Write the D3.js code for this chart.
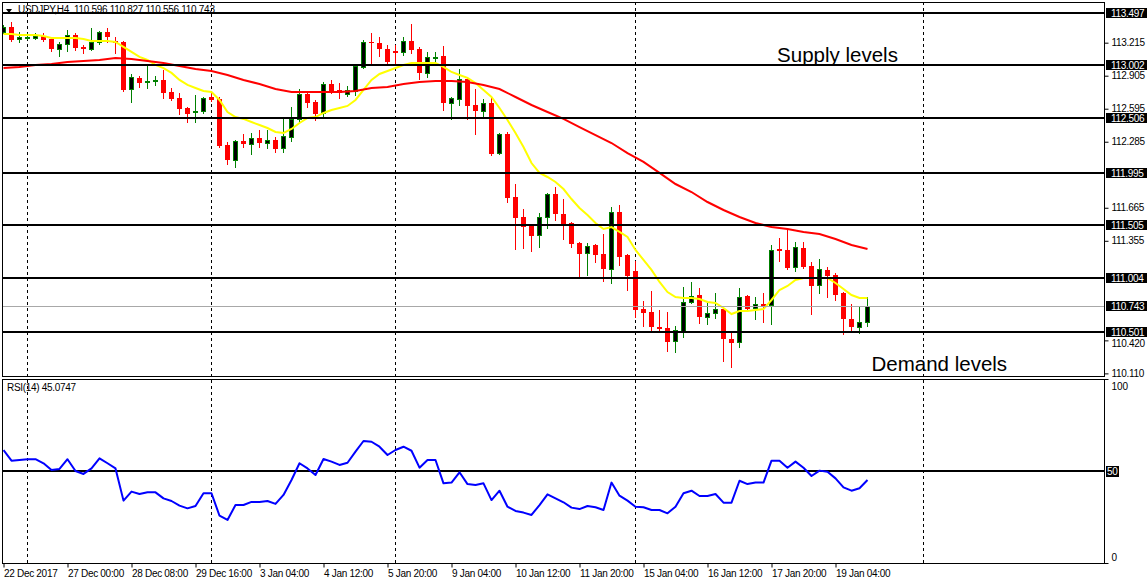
<!DOCTYPE html>
<html><head><meta charset="utf-8">
<script src="https://cdn.jsdelivr.net/npm/d3@7"></script>
<style>body{margin:0;background:#fff;} svg{display:block;font-family:"Liberation Sans",Arial,sans-serif;}</style>
</head><body><svg id="c" width="1147" height="585"></svg>
<script>
// ---------------- DATA ----------------
const symbolTitle = "USDJPY,H4  110.596 110.827 110.556 110.743";
const rsiTitle = "RSI(14) 45.0747";
const open = [
113.316,113.362,113.245,113.262,113.259,113.278,113.250,113.156,113.203,113.287,
113.175,113.156,113.222,113.316,113.231,113.222,112.780,112.884,112.846,112.855,
112.865,112.752,112.696,112.602,112.564,112.574,112.705,112.686,112.254,112.114,
112.292,112.264,112.320,112.273,112.301,112.226,112.330,112.499,112.733,112.658,
112.555,112.827,112.771,112.733,112.762,112.987,113.222,113.212,113.156,113.137,
113.128,113.231,113.156,112.931,113.071,113.090,112.649,112.686,112.874,112.630,
112.574,112.649,112.179,112.358,111.766,111.578,111.494,111.409,111.578,111.794,
111.607,111.522,111.334,111.240,111.315,111.231,111.090,111.625,111.222,111.071,
110.714,110.686,110.545,110.536,110.414,110.498,110.780,110.846,110.639,110.677,
110.714,110.433,110.405,110.837,110.724,110.761,110.752,111.278,111.269,111.109,
111.287,111.118,110.940,111.081,111.034,110.865,110.620,110.545,110.596];
const high = [
113.381,113.409,113.316,113.306,113.306,113.306,113.269,113.222,113.334,113.306,
113.193,113.353,113.325,113.353,113.269,113.231,112.921,112.902,112.996,112.902,
112.959,112.790,112.743,112.611,112.724,112.705,112.743,112.705,112.283,112.301,
112.358,112.367,112.395,112.395,112.330,112.499,112.611,112.780,112.761,112.677,
112.846,112.865,112.837,112.808,113.006,113.240,113.306,113.269,113.193,113.193,
113.269,113.391,113.175,113.128,113.128,113.184,112.705,112.968,112.893,112.780,
112.686,112.696,112.367,112.377,111.888,111.653,111.513,111.616,111.804,111.860,
111.747,111.531,111.340,111.334,111.325,111.419,111.672,111.691,111.231,111.165,
110.790,110.884,110.705,110.686,110.555,110.921,110.968,110.912,110.771,110.865,
110.733,110.489,110.912,110.846,110.827,110.865,111.315,111.381,111.456,111.344,
111.344,111.156,111.184,111.109,111.053,110.870,110.761,110.733,110.827];
const low = [
113.306,113.231,113.222,113.250,113.250,113.231,113.137,113.090,113.137,113.147,
113.118,113.147,113.203,113.222,113.118,112.762,112.658,112.799,112.790,112.818,
112.696,112.677,112.546,112.470,112.470,112.555,112.668,112.236,112.076,112.048,
112.236,112.170,112.236,112.226,112.189,112.189,112.292,112.461,112.611,112.489,
112.517,112.743,112.696,112.715,112.724,112.977,113.006,113.090,113.006,113.006,
113.100,113.118,112.874,112.893,113.024,112.583,112.499,112.630,112.499,112.358,
112.517,112.161,112.170,111.719,111.278,111.287,111.259,111.297,111.475,111.550,
111.372,111.297,111.024,111.034,111.156,110.977,110.959,111.128,110.893,110.639,
110.555,110.498,110.508,110.320,110.311,110.452,110.771,110.583,110.574,110.630,
110.226,110.170,110.358,110.705,110.620,110.592,110.574,111.165,111.090,111.071,
111.100,110.668,110.865,110.827,110.799,110.480,110.498,110.489,110.556];
const close = [
113.362,113.240,113.269,113.271,113.278,113.240,113.156,113.203,113.287,113.165,
113.156,113.222,113.316,113.269,113.212,112.771,112.893,112.837,112.855,112.865,
112.743,112.686,112.592,112.546,112.574,112.696,112.677,112.245,112.114,112.292,
112.264,112.320,112.273,112.301,112.217,112.339,112.499,112.733,112.649,112.546,
112.827,112.762,112.743,112.771,112.996,113.222,113.212,113.156,113.034,113.118,
113.231,113.147,112.931,113.081,113.081,112.649,112.696,112.874,112.621,112.574,
112.649,112.170,112.358,111.757,111.569,111.484,111.400,111.578,111.794,111.607,
111.513,111.325,111.231,111.306,111.222,111.090,111.625,111.203,111.024,110.705,
110.677,110.545,110.527,110.405,110.517,110.780,110.837,110.639,110.677,110.714,
110.433,110.395,110.827,110.714,110.761,110.743,111.269,111.259,111.100,111.297,
111.109,110.930,111.090,111.024,110.846,110.620,110.545,110.592,110.743];
// fast moving average (yellow), one value per bar
const maFast = [
113.297,113.297,113.287,113.287,113.287,113.278,113.259,113.259,113.259,113.259,
113.250,113.231,113.231,113.231,113.222,113.175,113.128,113.081,113.053,113.006,
112.977,112.931,112.865,112.818,112.790,112.761,112.752,112.677,112.564,112.517,
112.499,112.470,112.442,112.414,112.377,112.367,112.405,112.461,112.508,112.517,
112.555,112.583,112.602,112.621,112.677,112.771,112.865,112.921,112.949,112.977,
113.006,113.024,113.024,113.024,113.024,112.987,112.940,112.912,112.884,112.837,
112.771,112.705,112.602,112.489,112.367,112.236,112.085,111.992,111.954,111.907,
111.841,111.747,111.663,111.597,111.522,111.466,111.484,111.438,111.391,111.269,
111.175,111.081,110.968,110.874,110.827,110.818,110.818,110.808,110.780,110.771,
110.724,110.667,110.696,110.696,110.705,110.714,110.799,110.893,110.931,110.987,
111.006,111.006,111.006,111.006,110.959,110.902,110.846,110.818,110.818];
// slow moving average (red), read at every second bar (bars 0,2,4,...,108)
const maSlow = [
112.977,112.987,113.006,113.015,113.034,113.043,113.053,113.071,113.062,113.043,
113.024,112.996,112.968,112.949,112.912,112.865,112.827,112.780,112.752,112.752,
112.752,112.752,112.761,112.790,112.799,112.827,112.846,112.855,112.855,112.846,
112.818,112.780,112.705,112.630,112.564,112.499,112.423,112.348,112.273,112.179,
112.095,111.992,111.888,111.813,111.719,111.644,111.578,111.522,111.484,111.466,
111.438,111.419,111.372,111.316,111.278];
const rsi = [
61.4,55.6,56.0,56.4,56.4,54.2,50.5,51.1,56.4,50.0,
48.4,51.4,56.9,54.2,51.4,33.9,38.8,37.5,38.4,38.4,
35.1,33.7,31.2,29.7,31.0,37.9,37.9,25.7,23.4,31.5,
31.5,33.2,33.2,33.7,32.1,37.0,45.1,54.2,51.4,47.8,
56.5,55.1,53.3,54.5,60.5,66.3,65.9,63.2,58.7,61.4,
63.2,61.0,51.8,56.0,56.0,43.3,43.7,49.3,42.9,42.4,
43.3,34.2,39.3,30.6,28.3,27.4,26.1,31.5,37.3,35.1,
33.0,30.1,29.3,31.0,30.3,28.8,43.7,36.6,33.9,30.6,
30.3,28.8,28.8,27.0,30.6,37.9,39.3,36.4,36.4,37.5,
32.8,32.8,44.7,42.9,43.7,43.7,55.6,55.6,51.8,55.1,
51.8,47.3,50.2,49.6,46.0,41.1,39.3,40.6,45.07];
const levels = [113.497,113.002,112.506,111.995,111.505,111.004,110.501];
const currentPrice = 110.743;
const priceTicks = [113.215,112.905,112.595,112.285,111.665,111.355,110.420,110.110];
const xLabels = ["22 Dec 2017","27 Dec 00:00","28 Dec 08:00","29 Dec 16:00","3 Jan 04:00","4 Jan 12:00","5 Jan 20:00","9 Jan 04:00","10 Jan 12:00","11 Jan 20:00","15 Jan 04:00","16 Jan 12:00","17 Jan 20:00","19 Jan 04:00"];
const xLabelBars = [0,8,16,24,32,40,48,56,64,72,80,88,96,104];
const separatorBars = [3,26,49,79,115];
const rsiLevel = 50;
const annotations = [{text:"Supply levels", price:113.037, bar:96.7},{text:"Demand levels", price:110.132, bar:108.5}];

// ---------------- DRAW ----------------
const GREEN = "#008000", RED = "#ff0000";
const svg = d3.select("#c");
const L = 2, R = 1104, mainTop = 2, mainBot = 377, rsiTop = 379, rsiBot = 563;
const x = d3.scaleLinear().domain([0, 1]).range([3.5, 11.5]);
const y = d3.scaleLinear().domain([110.076, 113.597]).range([mainBot, mainTop]);
const yr = d3.scaleLinear().domain([0, 100]).range([rsiBot, rsiTop]);
const cy = v => Math.round(y(v)) + 0.5;

svg.append("rect").attr("width", 1147).attr("height", 585).attr("fill", "#fff");
const defs = svg.append("defs");
defs.append("clipPath").attr("id", "cm").append("rect").attr("x", L + 1).attr("y", mainTop + 1).attr("width", R - L - 1).attr("height", mainBot - mainTop - 1);
defs.append("clipPath").attr("id", "cr").append("rect").attr("x", L + 1).attr("y", rsiTop + 1).attr("width", R - L - 1).attr("height", rsiBot - rsiTop - 1);

// period separators
svg.append("g").selectAll("line").data(separatorBars).join("line")
  .attr("x1", d => x(d)).attr("x2", d => x(d)).attr("y1", mainTop).attr("y2", rsiBot)
  .attr("stroke", "#000").attr("stroke-width", 1).attr("stroke-dasharray", "3,3");

// header
const hdr = svg.append("g");
hdr.append("path").attr("d", "M6,9 L12,9 L9,13 Z").attr("fill", "#000");
hdr.append("text").attr("x", 18).attr("y", 13).attr("font-size", 10).attr("letter-spacing", "-0.3px")
  .attr("fill", "#000").style("white-space", "pre").text(symbolTitle);

// candles
const bars = d3.range(open.length).map(i => ({i, o: open[i], h: high[i], l: low[i], c: close[i], bull: close[i] >= open[i]}));
const cg = svg.append("g").attr("clip-path", "url(#cm)");
cg.selectAll("line.wick").data(bars).join("line").attr("class", "wick")
  .attr("x1", d => x(d.i)).attr("x2", d => x(d.i))
  .attr("y1", d => Math.round(y(d.h))).attr("y2", d => Math.round(y(d.l)) + 1)
  .attr("stroke", d => d.bull ? GREEN : RED).attr("stroke-width", 1);
cg.selectAll("rect.bear").data(bars.filter(d => !d.bull)).join("rect").attr("class", "bear")
  .attr("x", d => x(d.i) - 2.5).attr("width", 5)
  .attr("y", d => Math.round(y(d.o)))
  .attr("height", d => Math.max(1, Math.round(y(d.c)) - Math.round(y(d.o))))
  .attr("fill", RED);
cg.selectAll("rect.bull").data(bars.filter(d => d.bull)).join("rect").attr("class", "bull")
  .attr("x", d => x(d.i) - 2).attr("width", 4)
  .attr("y", d => cy(d.c))
  .attr("height", d => Math.max(0, cy(d.o) - cy(d.c)))
  .attr("fill", "#000").attr("stroke", GREEN).attr("stroke-width", 1);

// moving averages
const lineFast = d3.line().x((d, i) => x(i)).y(d => y(d));
const lineSlow = d3.line().x((d, i) => x(i * 2)).y(d => y(d));
cg.append("path").attr("d", lineFast(maFast)).attr("fill", "none").attr("stroke", "#ffff00").attr("stroke-width", 2);
cg.append("path").attr("d", lineSlow(maSlow)).attr("fill", "none").attr("stroke", "#ff0000").attr("stroke-width", 2);

// levels
cg.append("line").attr("x1", L).attr("x2", R).attr("y1", cy(currentPrice)).attr("y2", cy(currentPrice))
  .attr("stroke", "#a8a8a8").attr("stroke-width", 1);
cg.selectAll("line.lvl").data(levels).join("line").attr("class", "lvl")
  .attr("x1", L).attr("x2", R).attr("y1", d => Math.round(y(d))).attr("y2", d => Math.round(y(d)))
  .attr("stroke", "#000").attr("stroke-width", 2);

// annotations
svg.append("g").selectAll("text").data(annotations).join("text")
  .attr("x", d => x(d.bar)).attr("y", d => y(d.price)).attr("font-size", 20.5).attr("fill", "#000")
  .text(d => d.text);

// RSI
const rg = svg.append("g").attr("clip-path", "url(#cr)");
rg.append("line").attr("x1", L).attr("x2", R).attr("y1", Math.round(yr(rsiLevel))).attr("y2", Math.round(yr(rsiLevel)))
  .attr("stroke", "#000").attr("stroke-width", 2);
rg.append("path").attr("d", d3.line().x((d, i) => x(i)).y(d => yr(d))(rsi))
  .attr("fill", "none").attr("stroke", "#0000ff").attr("stroke-width", 2).attr("stroke-linejoin", "round");
svg.append("text").attr("x", 7).attr("y", 391).attr("font-size", 10).attr("letter-spacing", "-0.3px").attr("fill", "#000").text(rsiTitle);

// frames
svg.append("rect").attr("x", L + 0.5).attr("y", mainTop + 0.5).attr("width", R - L).attr("height", mainBot - mainTop - 1)
  .attr("fill", "none").attr("stroke", "#000");
svg.append("rect").attr("x", L + 0.5).attr("y", rsiTop + 0.5).attr("width", R - L).attr("height", rsiBot - rsiTop)
  .attr("fill", "none").attr("stroke", "#000");

// price axis
const ax = svg.append("g").attr("transform", `translate(${R + 0.5},0)`)
  .call(d3.axisRight(y).tickValues(priceTicks).tickSize(4).tickPadding(3).tickFormat(d3.format(".3f")));
ax.select(".domain").remove();
ax.selectAll("text").attr("font-size", 10).attr("letter-spacing", "-0.3px").attr("fill", "#000").attr("font-family", "Liberation Sans, Arial, sans-serif")
  .attr("dy", d => d === 110.420 ? "0.62em" : "0.32em");
ax.selectAll("line").attr("stroke", "#000");

// level labels
const lblData = levels.concat([currentPrice]);
const lg = svg.append("g");
lg.selectAll("rect").data(lblData).join("rect")
  .attr("x", R + 2).attr("y", d => Math.round(y(d)) - 5).attr("width", 41).attr("height", 10).attr("fill", "#000");
lg.selectAll("text").data(lblData).join("text")
  .attr("x", R + 7).attr("y", d => Math.round(y(d)) + 4).attr("font-size", 10).attr("letter-spacing", "-0.3px")
  .attr("fill", "#fff").text(d => d3.format(".3f")(d));

// RSI axis
const rax = svg.append("g").attr("transform", `translate(${R + 0.5},0)`)
  .call(d3.axisRight(yr).tickValues([100, 0]).tickSize(4).tickPadding(3));
rax.select(".domain").remove();
rax.selectAll("text").attr("font-size", 10).attr("fill", "#000").attr("font-family", "Liberation Sans, Arial, sans-serif")
  .attr("dy", d => d === 100 ? "1em" : "-0.3em");
rax.selectAll("line").attr("stroke", "#000");
svg.append("rect").attr("x", R + 2).attr("y", Math.round(yr(rsiLevel)) - 5).attr("width", 13).attr("height", 11).attr("fill", "#000");
svg.append("text").attr("x", R + 3).attr("y", Math.round(yr(rsiLevel)) + 4).attr("font-size", 10).attr("letter-spacing", "-0.3px").attr("fill", "#fff").text(rsiLevel);

// time axis
const tax = svg.append("g").attr("transform", `translate(0,${rsiBot + 0.5})`)
  .call(d3.axisBottom(x).tickValues(xLabelBars).tickSize(4).tickPadding(2).tickFormat((d, i) => xLabels[i]));
tax.select(".domain").remove();
tax.selectAll("text").attr("text-anchor", "start").attr("font-size", 10).attr("letter-spacing", "-0.3px")
  .attr("fill", "#000").attr("font-family", "Liberation Sans, Arial, sans-serif");
tax.selectAll("line").attr("stroke", "#000");
</script></body></html>
